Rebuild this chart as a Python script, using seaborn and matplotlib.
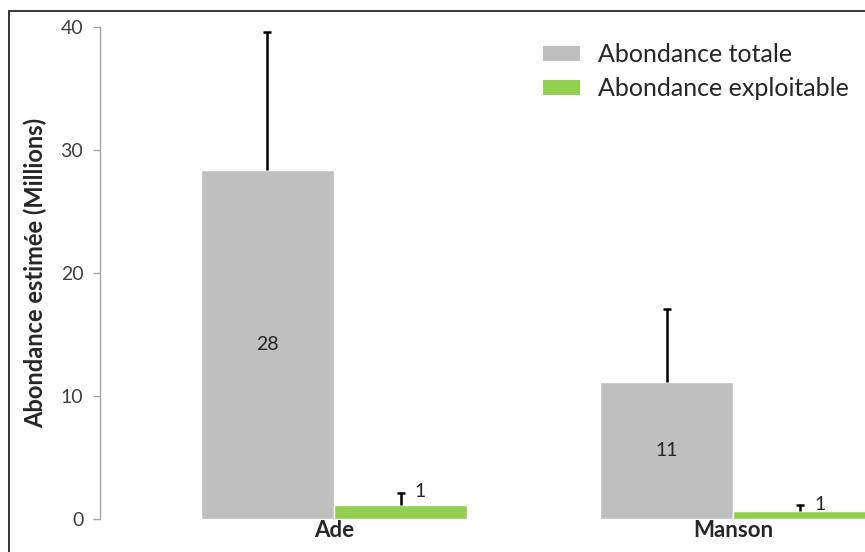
import matplotlib
matplotlib.use("Agg")
import matplotlib.pyplot as plt
import seaborn as sns
import pandas as pd
from matplotlib.patches import Rectangle, Patch

# Données
sites = ["Ade", "Manson"]
types = ["Abondance totale", "Abondance exploitable"]
totale = [28.4, 11.1]
totale_err = [11.2, 6.0]
exploitable = [1.1, 0.65]
exploitable_err = [1.0, 0.45]
etiquettes_totale = ["28", "11"]
etiquettes_exploit = ["1", "1"]

couleurs = {"Abondance totale": "#BFBFBF", "Abondance exploitable": "#92D050"}

df = pd.DataFrame({
    "Site": sites * 2,
    "Type": [types[0]] * 2 + [types[1]] * 2,
    "Valeur": totale + exploitable,
})

sns.set_style("white")
plt.rcParams["font.family"] = ["Lato", "DejaVu Sans"]

fig = plt.figure(figsize=(8.65, 5.52), dpi=100)
ax = fig.add_axes([0.1156, 0.0598, 1 - 0.1156, 0.951 - 0.0598])

sns.barplot(data=df, x="Site", y="Valeur", hue="Type", hue_order=types,
            palette=couleurs, width=0.667, gap=0, saturation=1,
            errorbar=None, ax=ax, legend=False)

# Barres d'erreur (positives seulement) et étiquettes
for cont, vals, errs, labs, kind in zip(ax.containers, [totale, exploitable],
                                         [totale_err, exploitable_err],
                                         [etiquettes_totale, etiquettes_exploit],
                                         ["tot", "exp"]):
    xs = [b.get_x() + b.get_width() / 2 for b in cont]
    _, caps, _ = ax.errorbar(xs, vals, yerr=[[0] * len(vals), errs], fmt="none",
                             ecolor="black", elinewidth=1.8, capsize=3.2,
                             capthick=1.8, zorder=3)
    caps[0].set_visible(False)
    for x, v, e, t in zip(xs, vals, errs, labs):
        if kind == "tot":
            ax.text(x, v / 2, t, ha="center", va="center", fontsize=14,
                    color="#262626")
        else:
            ax.text(x + 0.05, v + e + 0.1, t, ha="center", va="center",
                    fontsize=14, color="#262626")

ax.set_ylim(0, 40)
ax.set_xlim(-0.586, 1.33)
ax.set_yticks([0, 10, 20, 30, 40])
ax.tick_params(axis="y", which="both", left=True, length=5, width=1,
               color="#A6A6A6", labelsize=14, labelcolor="#404040", pad=7)
ax.tick_params(axis="x", length=0, labelsize=16, pad=1)
for lab in ax.get_xticklabels():
    lab.set_fontweight("bold")
ax.set_xlabel("")
ax.set_ylabel("Abondance estimée (Millions)", fontsize=17, fontweight="bold",
              labelpad=10)

for s in ["top", "right", "bottom"]:
    ax.spines[s].set_visible(False)
ax.spines["left"].set_color("#A6A6A6")
ax.spines["left"].set_linewidth(1)

poignees = [Patch(facecolor=couleurs[t], edgecolor="none") for t in types]
ax.legend(poignees, types, loc="upper left", bbox_to_anchor=(0.579, 0.967),
          frameon=False, fontsize=18, handlelength=1.5, handleheight=0.6,
          handletextpad=0.7, labelspacing=0.44, borderpad=0, borderaxespad=0,
          labelcolor="#262626")

# Cadre de la zone du graphique
fig.patches.append(Rectangle((9 / 865, -0.1), 1.2, 1.1 - 11 / 552,
                             transform=fig.transFigure, fill=False,
                             edgecolor="#262626", linewidth=1.3))

fig.savefig("out.png", dpi=100)
